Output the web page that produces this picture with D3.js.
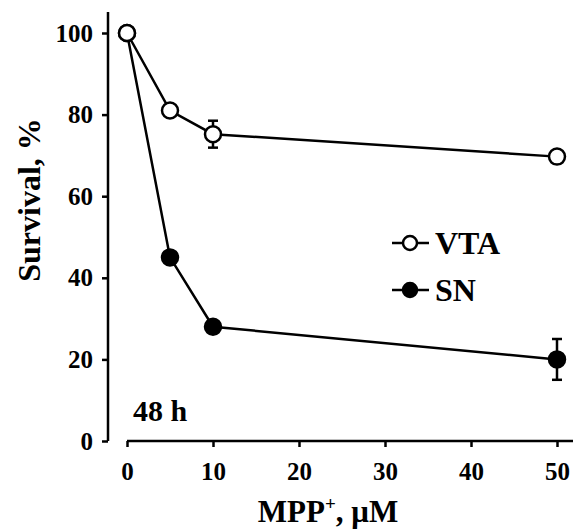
<!DOCTYPE html>
<html><head><meta charset="utf-8">
<script src="https://cdn.jsdelivr.net/npm/d3@7"></script>
<style>body{margin:0;background:#fff}svg{display:block}text{font-family:"Liberation Serif","Times New Roman",serif;font-weight:bold;fill:#000}</style>
</head><body>
<svg id="c" width="574" height="531"></svg>
<script>
const doses = [0, 5, 10, 50];
const vta = [100, 81, 75.2, 69.7];
const vtaErr = [0, 0, 3.3, 0.8];
const sn = [100, 45, 28, 20];
const snErr = [0, 0, 0, 5];
const xTicks = [0, 10, 20, 30, 40, 50];
const yTicks = [0, 20, 40, 60, 80, 100];
const seriesNames = ["VTA", "SN"];

const svg = d3.select("#c");
const x = d3.scaleLinear().domain([0, 50]).range([127, 557]);
const y = d3.scaleLinear().domain([0, 100]).range([441, 33]);

// y axis
const ya = svg.append("g").attr("transform", "translate(108,0)")
  .call(d3.axisLeft(y).tickValues(yTicks).tickSize(6).tickPadding(9));
ya.select(".domain").remove();
ya.append("line").attr("x1", 0).attr("x2", 0).attr("y1", 12).attr("y2", 441).attr("stroke", "#000").attr("stroke-width", 2.5);
ya.selectAll(".tick line").attr("stroke", "#000").attr("stroke-width", 2.5);
ya.selectAll(".tick text").style("font-size", "25px").style("font-family", "Liberation Serif, serif").style("font-weight", "bold");

// x axis
const xa = svg.append("g").attr("transform", "translate(0,441)")
  .call(d3.axisBottom(x).tickValues(xTicks).tickSize(6).tickPadding(15));
xa.select(".domain").remove();
xa.append("line").attr("x1", 127).attr("x2", 573).attr("y1", 0).attr("y2", 0).attr("stroke", "#000").attr("stroke-width", 2.5);
xa.selectAll(".tick line").attr("stroke", "#000").attr("stroke-width", 2.5);
xa.selectAll(".tick text").style("font-size", "25px").style("font-family", "Liberation Serif, serif").style("font-weight", "bold");

// titles
svg.append("text").attr("x", 328).attr("y", 522).attr("text-anchor", "middle").style("font-size", "31px")
  .html('MPP<tspan dy="-12" font-size="19">+</tspan><tspan dy="12">, μM</tspan>');
svg.append("text").attr("transform", "translate(40,200) rotate(-90)").attr("text-anchor", "middle").style("font-size", "32px").text("Survival, %");
svg.append("text").attr("x", 133).attr("y", 421).style("font-size", "30px").text("48 h");

const line = d3.line().x((d, i) => x(doses[i])).y(d => y(d));
function drawSeries(vals, errs, fill) {
  const g = svg.append("g");
  g.append("path").datum(vals).attr("d", line).attr("fill", "none").attr("stroke", "#000").attr("stroke-width", 2.5);
  vals.forEach((v, i) => {
    if (errs[i] > 0) {
      const xc = x(doses[i]);
      g.append("line").attr("x1", xc).attr("x2", xc).attr("y1", y(v + errs[i])).attr("y2", y(v - errs[i])).attr("stroke", "#000").attr("stroke-width", 2.5);
      [v + errs[i], v - errs[i]].forEach(e => g.append("line").attr("x1", xc - 5).attr("x2", xc + 5).attr("y1", y(e)).attr("y2", y(e)).attr("stroke", "#000").attr("stroke-width", 2.5));
    }
  });
  g.selectAll("circle").data(vals).join("circle")
    .attr("cx", (d, i) => x(doses[i])).attr("cy", d => y(d)).attr("r", 8)
    .attr("fill", fill).attr("stroke", "#000").attr("stroke-width", 2.5);
}
drawSeries(sn, snErr, "#000");
drawSeries(vta, vtaErr, "#fff");

// legend
const leg = svg.append("g");
[[seriesNames[0], "#fff", 243], [seriesNames[1], "#000", 290]].forEach(([name, fill, ly]) => {
  leg.append("line").attr("x1", 392).attr("x2", 429).attr("y1", ly).attr("y2", ly).attr("stroke", "#000").attr("stroke-width", 2.5);
  leg.append("circle").attr("cx", 410).attr("cy", ly).attr("r", 7).attr("fill", fill).attr("stroke", "#000").attr("stroke-width", 2.5);
  leg.append("text").attr("x", 435).attr("y", ly + 11).style("font-size", "32px").text(name);
});
</script>
</body></html>
